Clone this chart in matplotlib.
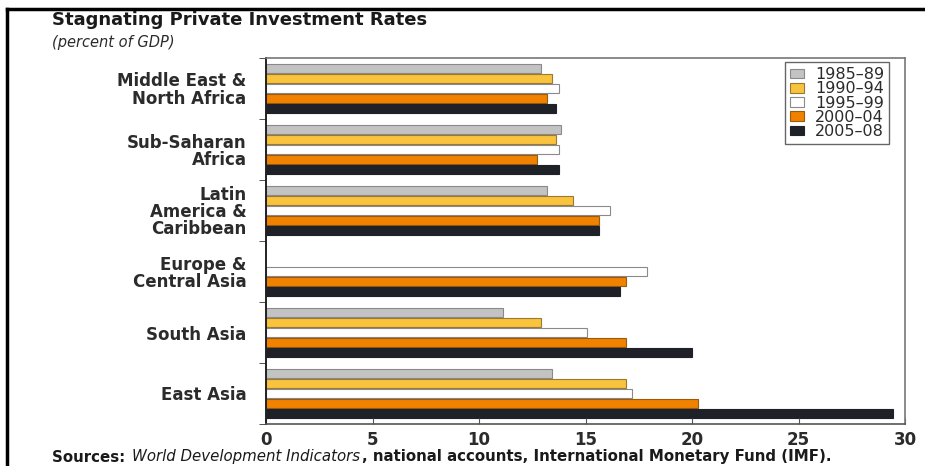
import numpy as np
import matplotlib.pyplot as plt
from matplotlib.lines import Line2D

regions = ["Middle East &\nNorth Africa", "Sub-Saharan\nAfrica", "Latin\nAmerica &\nCaribbean",
           "Europe &\nCentral Asia", "South Asia", "East Asia"]
periods = ["1985\u201389", "1990\u201394", "1995\u201399", "2000\u201304", "2005\u201308"]

v_1985_89 = [12.9, 13.85, 13.2, np.nan, 11.15, 13.45]
v_1990_94 = [13.45, 13.6, 14.4, np.nan, 12.9, 16.9]
v_1995_99 = [13.75, 13.75, 16.15, 17.9, 15.05, 17.2]
v_2000_04 = [13.2, 12.7, 15.65, 16.9, 16.9, 20.3]
v_2005_08 = [13.6, 13.75, 15.65, 16.6, 20.0, 29.45]

series = [v_1985_89, v_1990_94, v_1995_99, v_2000_04, v_2005_08]
colors = ["#c3c3c3", "#f9c33e", "#ffffff", "#f08200", "#1f2129"]
edges = ["#8a8a8a", "#9a7a30", "#8a8a8a", "#9a5a10", "#1f2129"]

plt.rcParams['font.family'] = ['DejaVu Sans']
TXT = "#2b2b2b"

fig = plt.figure(figsize=(9.25, 4.66), dpi=100)
ax = fig.add_axes([266 / 925, 1 - 424 / 466, (905 - 266) / 925, (424 - 58) / 466])

y = np.arange(len(regions))
h = 0.166
for k, (vals, c, ec) in enumerate(zip(series, colors, edges)):
    ax.barh(y + (k - 2) * h, vals, height=h * 0.92, color=c, edgecolor=ec,
            linewidth=0.8, label=periods[k])

ax.set_xlim(0, 30)
ax.set_ylim(len(regions) - 0.5, -0.5)
ax.set_xticks(range(0, 31, 5))
ax.set_xticklabels([str(t) for t in range(0, 31, 5)], fontsize=12, fontweight='bold', color=TXT)
ax.tick_params(axis='x', direction='in', length=4, color="#555555", pad=5)

ax.set_yticks(y)
ax.set_yticklabels(regions, fontsize=12, fontweight='bold', color=TXT, ha='right',
                   multialignment='right', linespacing=0.95)
ax.tick_params(axis='y', which='major', length=0, pad=14)
ax.set_yticks(np.arange(-0.5, len(regions), 1.0), minor=True)
ax.tick_params(axis='y', which='minor', length=5, direction='out', color="#333333")

ax.spines['left'].set_color("#222222")
ax.spines['left'].set_linewidth(1.4)
ax.spines['bottom'].set_color("#555555")
ax.spines['bottom'].set_linewidth(1.2)
for s in ['top', 'right']:
    ax.spines[s].set_color("#777777")
    ax.spines[s].set_linewidth(1.2)

leg = ax.legend(loc='upper right', bbox_to_anchor=(0.975, 0.988), fontsize=11.5,
                handlelength=0.9, handleheight=0.55, handletextpad=0.7, labelspacing=-0.05,
                borderpad=0.3, borderaxespad=0.0, fancybox=False, edgecolor="#666666",
                framealpha=1)
leg.get_frame().set_linewidth(1.0)
for t in leg.get_texts():
    t.set_color(TXT)

fig.text(52 / 925, 1 - 20 / 466, "Stagnating Private Investment Rates", fontsize=13,
         fontweight='bold', color="#1a1a1a", va='center', ha='left')
fig.text(52 / 925, 1 - 43 / 466, "(percent of GDP)", fontsize=10.5, style='italic',
         color=TXT, va='center', ha='left')

# sources line, pieces placed one after the other
src_y = 1 - 457 / 466
renderer = fig.canvas.get_renderer()
x0 = 52 / 925
pieces = [("Sources: ", dict(fontweight='bold')),
          ("World Development Indicators", dict(style='italic')),
          (", national accounts, International Monetary Fund (IMF).", dict(fontweight='bold'))]
for txt, kw in pieces:
    t = fig.text(x0, src_y, txt, fontsize=10.8, color="#1a1a1a", va='center', ha='left', **kw)
    bb = t.get_window_extent(renderer)
    x0 = bb.x1 / fig.bbox.width + 2 / 925

fig.add_artist(Line2D([7 / 925, 7 / 925], [0, 1 - 9 / 466], color='black', lw=2.5,
                      transform=fig.transFigure))
fig.add_artist(Line2D([7 / 925, 1], [1 - 9 / 466, 1 - 9 / 466], color='black', lw=2.5,
                      transform=fig.transFigure))

fig.savefig("out.png", dpi=100)
